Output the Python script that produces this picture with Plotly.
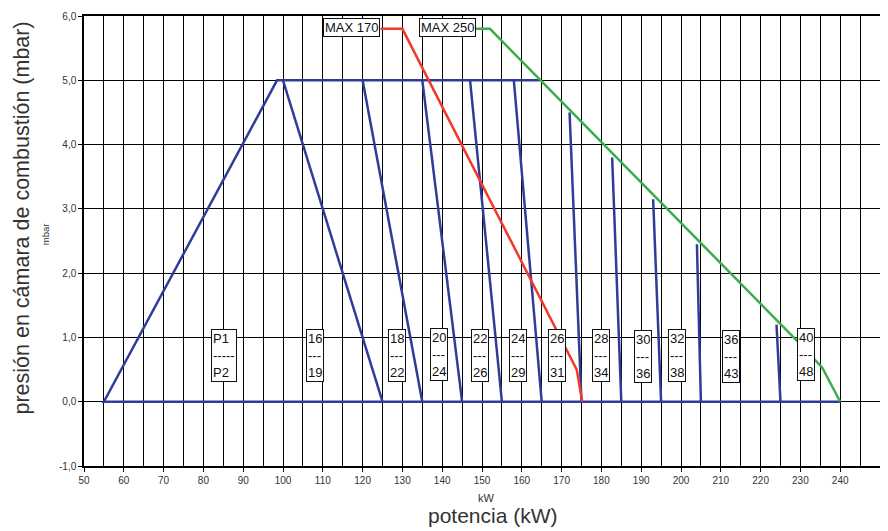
import plotly.graph_objects as go

# blue outline of the working field (kW, mbar)
field_kw = [164.5, 98.5, 55, 240]
field_mbar = [5.0, 5.0, 0.0, 0.0]

# blue nozzle lines: top point -> bottom point
nozzle_top_kw = [100, 120, 135, 147, 158, 172, 182.7, 193, 204, 224]
nozzle_top_mbar = [5.0, 5.0, 5.0, 5.0, 5.0, 4.5, 3.8, 3.15, 2.45, 1.2]
nozzle_bottom_kw = [125, 135, 145, 155, 165, 175, 185, 195, 205, 225]

# MAX 170 curve (red) and MAX 250 curve (green)
max170_kw = [124.5, 130, 173.8, 175.2]
max170_mbar = [5.8, 5.8, 0.5, 0.0]
max250_kw = [148.2, 152, 229.6, 235.5, 240]
max250_mbar = [5.8, 5.8, 0.92, 0.53, 0.0]

# boxed nozzle labels
box_labels = ["P1<br>-----<br>P2", "16<br>---<br>19", "18<br>---<br>22", "20<br>---<br>24",
              "22<br>---<br>26", "24<br>---<br>29", "26<br>---<br>31", "28<br>---<br>34",
              "30<br>---<br>36", "32<br>---<br>38", "36<br>---<br>43", "40<br>---<br>48"]
box_kw = [85.1, 108.1, 128.7, 139.3, 149.4, 159.0, 168.8, 180.0, 190.4, 198.9, 212.6, 231.4]
box_mbar = [0.72, 0.72, 0.72, 0.74, 0.72, 0.72, 0.72, 0.72, 0.70, 0.72, 0.70, 0.74]

x_ticks = list(range(50, 251, 10))
y_ticks = [-1, 0, 1, 2, 3, 4, 5, 6]
y_ticktext = ["-1,0", "0,0", "1,0", "2,0", "3,0", "4,0", "5,0", "6,0"]

BLUE = "#2f3d98"
RED = "#f2392a"
GREEN = "#3aae48"
FONT = "Arial, Liberation Sans, sans-serif"

fig = go.Figure()

fig.add_trace(go.Scatter(x=field_kw, y=field_mbar, mode="lines",
                         line=dict(color=BLUE, width=2.5), hoverinfo="skip"))
for i in range(len(nozzle_top_kw)):
    fig.add_trace(go.Scatter(x=[nozzle_top_kw[i], nozzle_bottom_kw[i]],
                             y=[nozzle_top_mbar[i], 0.0], mode="lines",
                             line=dict(color=BLUE, width=2.5), hoverinfo="skip"))
fig.add_trace(go.Scatter(x=max170_kw, y=max170_mbar, mode="lines",
                         line=dict(color=RED, width=2.5), hoverinfo="skip"))
fig.add_trace(go.Scatter(x=max250_kw, y=max250_mbar, mode="lines",
                         line=dict(color=GREEN, width=2.5), hoverinfo="skip"))

for t, xv, yv in zip(box_labels, box_kw, box_mbar):
    fig.add_annotation(x=xv, y=yv, text=t, showarrow=False, align="left",
                       font=dict(family=FONT, size=13, color="#111"),
                       bgcolor="white", bordercolor="#111", borderwidth=1, borderpad=1)

fig.add_annotation(x=117.1, y=5.82, text="MAX 170", showarrow=False,
                   font=dict(family=FONT, size=13, color="#111"),
                   bgcolor="white", bordercolor="#111", borderwidth=1, borderpad=1)
fig.add_annotation(x=141.4, y=5.82, text="MAX 250", showarrow=False,
                   font=dict(family=FONT, size=13, color="#111"),
                   bgcolor="white", bordercolor="#111", borderwidth=1, borderpad=1)

# axis titles
fig.add_annotation(xref="paper", yref="paper", x=-0.078, y=0.552, textangle=-90,
                   xanchor="center", yanchor="middle",
                   text="presión en cámara de combustión (mbar)", showarrow=False,
                   font=dict(family=FONT, size=21.5, color="#333"))
fig.add_annotation(xref="paper", yref="paper", x=-0.0484, y=0.516, textangle=-90,
                   xanchor="center", yanchor="middle",
                   text="mbar", showarrow=False,
                   font=dict(family=FONT, size=9.5, color="#333"))
fig.add_annotation(xref="paper", yref="paper", x=0.506, y=-0.071,
                   xanchor="center", yanchor="middle",
                   text="kW", showarrow=False,
                   font=dict(family=FONT, size=11, color="#333"))
fig.add_annotation(xref="paper", yref="paper", x=0.514, y=-0.111,
                   xanchor="center", yanchor="middle",
                   text="potencia (kW)", showarrow=False,
                   font=dict(family=FONT, size=21, color="#333"))

fig.update_xaxes(range=[50, 250], tickvals=x_ticks, ticks="outside", ticklen=4,
                 tickcolor="#000", showline=True, linecolor="#000", linewidth=1.5, mirror=True,
                 showgrid=True, gridcolor="#000", gridwidth=1.2, zeroline=False, automargin=False,
                 minor=dict(dtick=5, tick0=50, showgrid=True, gridcolor="#000", gridwidth=1.2),
                 tickfont=dict(family=FONT, size=10, color="#333"))
fig.update_yaxes(range=[-1, 6], tickvals=y_ticks, ticktext=y_ticktext, ticks="outside",
                 ticklen=4, tickcolor="#000", showline=True, linecolor="#000", linewidth=1.5,
                 mirror=True, showgrid=True, gridcolor="#000", gridwidth=1.2, zeroline=False,
                 automargin=False, tickfont=dict(family=FONT, size=10, color="#333"))

# page body adds an 8px offset, so the figure is drawn 8px smaller each way
fig.update_layout(width=880, height=523, showlegend=False,
                  margin=dict(l=76, r=8, t=8, b=65),
                  plot_bgcolor="white", paper_bgcolor="white")

fig.write_html("out.html")
